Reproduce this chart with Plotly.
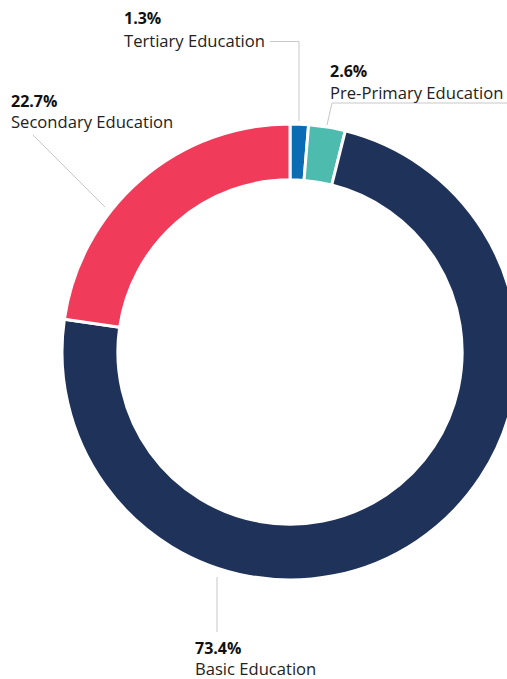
import plotly.graph_objects as go

# Share of education spending by level (percent)
categories = ["Tertiary Education", "Pre-Primary Education", "Basic Education", "Secondary Education"]
shares = [1.3, 2.6, 73.4, 22.7]
colors = ["#0b6cb5", "#4dbcae", "#1f3259", "#f03c5a"]

# Figure geometry (pixels): the ring is a 456px square plot area
W, H = 518, 679
L, T = 62, 124
SIZE = 456


def to_paper(x, y):
    """Convert page pixel coordinates to paper coordinates."""
    return (x - L) / SIZE, (T + SIZE - y) / SIZE


# Label layout: text left edge, percent baseline, name baseline
label_pos = {
    "Tertiary Education": (124, 24, 46),
    "Pre-Primary Education": (330, 77, 98),
    "Secondary Education": (11, 107, 127),
    "Basic Education": (195, 654, 674),
}

# Leader lines from each label to its slice
leaders = {
    "Tertiary Education": [(270, 41.5), (299, 41.5), (299, 121)],
    "Pre-Primary Education": [(520, 103), (332, 103), (327, 125)],
    "Secondary Education": [(33, 135), (105, 207)],
    "Basic Education": [(217, 577), (217, 632)],
}

fig = go.Figure(
    go.Pie(
        labels=categories,
        values=shares,
        sort=False,
        direction="clockwise",
        rotation=0,
        hole=0.755,
        marker=dict(colors=colors, line=dict(color="white", width=3)),
        textinfo="none",
        hoverinfo="label+percent",
        showlegend=False,
        domain=dict(x=[0, 1], y=[0, 1]),
    )
)

annotations = []
shapes = []
FONT = "'Open Sans', Lato, sans-serif"
for name, value in zip(categories, shares):
    x0, yb_pct, yb_name = label_pos[name]
    ax, ay = to_paper(x0 - 1, yb_pct - 6)
    annotations.append(dict(
        x=ax, y=ay, xref="paper", yref="paper", xanchor="left", yanchor="middle",
        text=f"<b>{value}%</b>", showarrow=False, borderpad=0,
        font=dict(family=FONT, size=16, color="#111111"),
    ))
    nx, ny = to_paper(x0 - 1, yb_name - 6)
    annotations.append(dict(
        x=nx, y=ny, xref="paper", yref="paper", xanchor="left", yanchor="middle",
        text=name, showarrow=False, borderpad=0,
        font=dict(family=FONT, size=16.6, color="#222222"),
    ))
    pts = [to_paper(px, py) for px, py in leaders[name]]
    path = "M " + " L ".join(f"{px:.5f},{py:.5f}" for px, py in pts)
    shapes.append(dict(type="path", path=path, xref="paper", yref="paper",
                       line=dict(color="#c8c8c8", width=1)))

fig.update_layout(
    width=W, height=H,
    margin=dict(l=L, r=W - L - SIZE, t=T, b=H - T - SIZE, pad=0),
    paper_bgcolor="white", plot_bgcolor="white",
    annotations=annotations, shapes=shapes,
)

fig.write_html(
    "out.html",
    post_script="document.documentElement.style.overflow='hidden';document.body.style.overflow='hidden';document.body.style.margin='0';",
)
